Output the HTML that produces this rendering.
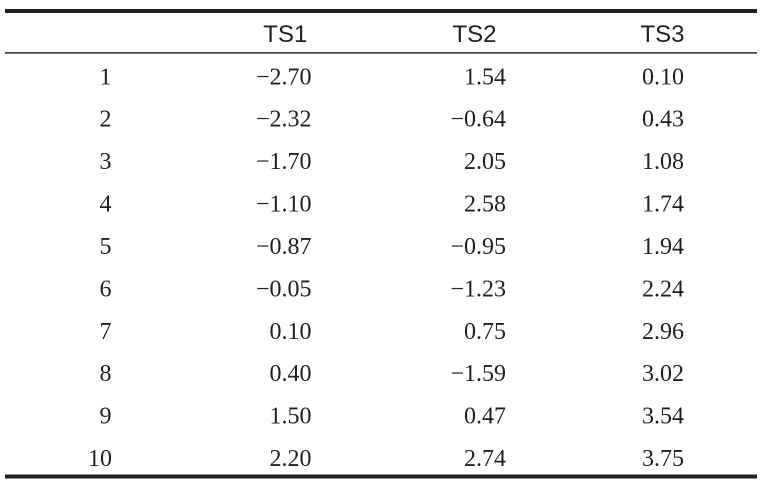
<!DOCTYPE html>
<html>
<head>
<meta charset="utf-8">
<style>
html,body{margin:0;padding:0;background:#fff;}
svg{display:block;}
.n{font-family:"Liberation Serif",serif;font-size:24px;fill:#231f20;}
.h{font-family:"Liberation Sans",sans-serif;font-size:24px;fill:#231f20;}
</style>
</head>
<body>
<svg width="763" height="489" viewBox="0 0 763 489" xmlns="http://www.w3.org/2000/svg">
<rect x="0" y="0" width="763" height="489" fill="#fff"/>
<rect x="5" y="9" width="752" height="4" fill="#231f20"/>
<rect x="5" y="52" width="752" height="1.8" fill="#4a4a4a"/>
<rect x="5" y="474.5" width="752" height="4" fill="#231f20"/>

<text class="h" x="285.3" y="42" text-anchor="middle">TS1</text>
<text class="h" x="474.5" y="42" text-anchor="middle">TS2</text>
<text class="h" x="662.5" y="42" text-anchor="middle">TS3</text>

<g class="n">
<text x="105.5" y="84.3" text-anchor="middle">1</text>
<text x="311.5" y="84.3" text-anchor="end">−2.70</text>
<text x="506" y="84.3" text-anchor="end">1.54</text>
<text x="684" y="84.3" text-anchor="end">0.10</text>

<text x="105.5" y="126.7" text-anchor="middle">2</text>
<text x="311.5" y="126.7" text-anchor="end">−2.32</text>
<text x="506" y="126.7" text-anchor="end">−0.64</text>
<text x="684" y="126.7" text-anchor="end">0.43</text>

<text x="105.5" y="169.1" text-anchor="middle">3</text>
<text x="311.5" y="169.1" text-anchor="end">−1.70</text>
<text x="506" y="169.1" text-anchor="end">2.05</text>
<text x="684" y="169.1" text-anchor="end">1.08</text>

<text x="105.5" y="211.5" text-anchor="middle">4</text>
<text x="311.5" y="211.5" text-anchor="end">−1.10</text>
<text x="506" y="211.5" text-anchor="end">2.58</text>
<text x="684" y="211.5" text-anchor="end">1.74</text>

<text x="105.5" y="253.9" text-anchor="middle">5</text>
<text x="311.5" y="253.9" text-anchor="end">−0.87</text>
<text x="506" y="253.9" text-anchor="end">−0.95</text>
<text x="684" y="253.9" text-anchor="end">1.94</text>

<text x="105.5" y="296.3" text-anchor="middle">6</text>
<text x="311.5" y="296.3" text-anchor="end">−0.05</text>
<text x="506" y="296.3" text-anchor="end">−1.23</text>
<text x="684" y="296.3" text-anchor="end">2.24</text>

<text x="105.5" y="338.8" text-anchor="middle">7</text>
<text x="311.5" y="338.8" text-anchor="end">0.10</text>
<text x="506" y="338.8" text-anchor="end">0.75</text>
<text x="684" y="338.8" text-anchor="end">2.96</text>

<text x="105.5" y="381.2" text-anchor="middle">8</text>
<text x="311.5" y="381.2" text-anchor="end">0.40</text>
<text x="506" y="381.2" text-anchor="end">−1.59</text>
<text x="684" y="381.2" text-anchor="end">3.02</text>

<text x="105.5" y="423.6" text-anchor="middle">9</text>
<text x="311.5" y="423.6" text-anchor="end">1.50</text>
<text x="506" y="423.6" text-anchor="end">0.47</text>
<text x="684" y="423.6" text-anchor="end">3.54</text>

<text x="100" y="466" text-anchor="middle">10</text>
<text x="311.5" y="466" text-anchor="end">2.20</text>
<text x="506" y="466" text-anchor="end">2.74</text>
<text x="684" y="466" text-anchor="end">3.75</text>
</g>
</svg>
</body>
</html>
